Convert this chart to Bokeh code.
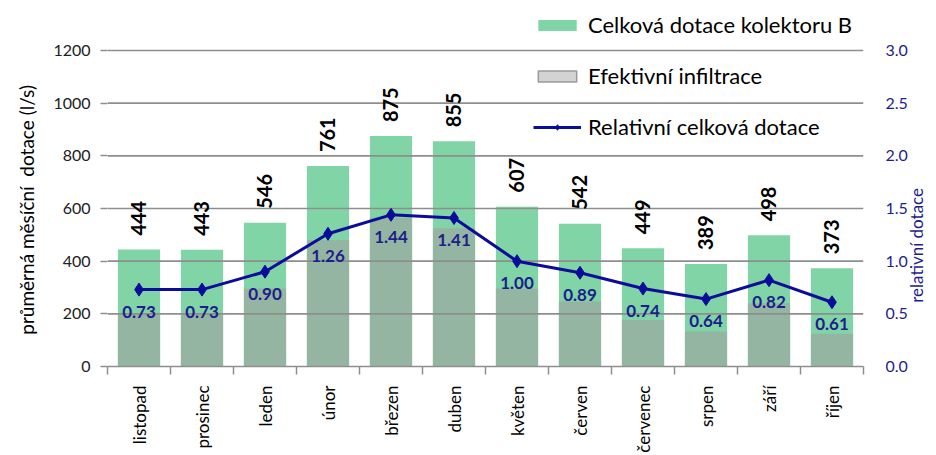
import math
from bokeh.plotting import figure
from bokeh.models import (ColumnDataSource, Range1d, LinearAxis, FixedTicker,
                          LabelSet, Legend, LegendItem)
from bokeh.core.properties import value
from bokeh.embed import file_html
from bokeh.resources import INLINE

months = ["listopad", "prosinec", "leden", "únor", "březen", "duben",
          "květen", "červen", "červenec", "srpen", "září", "říjen"]
total = [444, 443, 546, 761, 875, 855, 607, 542, 449, 389, 498, 373]
infiltrace = [200, 202, 296, 480, 566, 525, 295, 247, 177, 133, 240, 124]
relativni = [0.73, 0.73, 0.90, 1.26, 1.44, 1.41, 1.00, 0.89, 0.74, 0.64, 0.82, 0.61]
left_ticks = [0, 200, 400, 600, 800, 1000, 1200]
right_ticks = [0.0, 0.5, 1.0, 1.5, 2.0, 2.5, 3.0]

FONT = "Lato"
GREEN = "#80d4a6"
GREY_BAR = "#94b5a1"
GRID = "#8e8e8e"
NAVY = "#0c0c9a"
NAVY_TXT = "#1d1d8c"
EM = "\u2003"

# plot geometry: axis span 0..1200 covers 316 px; frame is taller so that the
# legend (which sits above the top gridline) stays inside the drawable frame
AXIS_PX = 316
FRAME_PX = 356
ext = FRAME_PX / AXIS_PX

n = len(months)
xs = [i + 0.5 for i in range(n)]
src = ColumnDataSource(dict(
    x=xs, total=total, inf=infiltrace, rel=relativni,
    total_lbl=[str(v) for v in total],
    rel_lbl=[f"{v:.2f}" for v in relativni],
))

x_start, x_end = 0, n
p = figure(frame_width=756, frame_height=FRAME_PX,
           x_range=Range1d(x_start, x_end),
           y_range=Range1d(left_ticks[0], left_ticks[-1] * ext),
           output_backend="svg", toolbar_location=None,
           min_border_left=107, min_border_right=73,
           min_border_top=10, min_border_bottom=89,
           outline_line_color=None, background_fill_color="white")
p.extra_y_ranges = {"rel": Range1d(right_ticks[0], right_ticks[-1] * ext)}
p.xgrid.visible = False
p.ygrid.visible = False

# bars
r_green = p.vbar(x="x", top="total", width=0.67, source=src,
                 fill_color=GREEN, line_color=None)
p.vbar(x="x", top="inf", width=0.67, source=src,
       fill_color=GREY_BAR, line_color=None)

# gridlines drawn above the bars
gy = left_ticks[1:]
p.segment(x0=[x_start] * len(gy), x1=[x_end] * len(gy), y0=gy, y1=gy,
          line_color=GRID, line_width=1.6)

# line
r_line = p.line(x="x", y="rel", source=src, y_range_name="rel",
                line_color=NAVY, line_width=3)
r_pts = p.scatter(x="x", y="rel", source=src, y_range_name="rel",
                  marker="diamond", size=13, fill_color=NAVY, line_color=NAVY)

# legend-only renderer for the grey swatch (no visible data)
r_grey_leg = p.vbar(x=[float("nan")], top=[float("nan")], width=0.67,
                    fill_color="#d3d3d3", line_color="#9a9a9a", line_width=1.5)

# labels
bar_labels = LabelSet(x="x", y="total", text="total_lbl", source=src,
                      angle=math.pi / 2, text_align="left", text_baseline="middle",
                      y_offset=14, text_font=value(FONT), text_font_size="20px",
                      text_font_style="bold", text_color="black")
p.add_layout(bar_labels)
rel_labels = LabelSet(x="x", y="rel", text="rel_lbl", source=src, y_range_name="rel",
                      text_align="center", text_baseline="middle",
                      y_offset=-22, text_font=value(FONT), text_font_size="17px",
                      text_font_style="bold", text_color=NAVY_TXT)
p.add_layout(rel_labels)

# left axis
ya = p.yaxis[0]
ya.ticker = FixedTicker(ticks=left_ticks)
ya.axis_label = "průměrná měsíční\u00a0 dotace (l/s)" + EM * 3
ya.axis_label_text_font = FONT
ya.axis_label_text_font_size = "19px"
ya.axis_label_text_font_style = "normal"
ya.axis_label_text_color = "black"
ya.axis_label_standoff = 12
ya.major_label_text_font = FONT
ya.major_label_text_font_size = "16px"
ya.major_label_text_color = "#202020"
ya.major_label_standoff = 10
ya.axis_line_color = None
ya.major_tick_line_color = GRID
ya.major_tick_line_width = 1.5
ya.major_tick_out = 7
ya.major_tick_in = 0
ya.minor_tick_line_color = None

# right axis
ra = LinearAxis(y_range_name="rel", ticker=FixedTicker(ticks=right_ticks))
ra.axis_label_orientation = math.pi / 2
if "axis_label_align" in ra.properties():
    ra.axis_label_align = "start"
    ra.axis_label = EM * 5 + "relativní dotace"
else:
    ra.axis_label = "relativní dotace"
ra.major_label_overrides = {v: f"{v:.1f}" for v in right_ticks}
ra.axis_label_text_font = FONT
ra.axis_label_text_font_size = "17px"
ra.axis_label_text_font_style = "normal"
ra.axis_label_text_color = NAVY_TXT
ra.axis_label_standoff = 6
ra.major_label_text_font = FONT
ra.major_label_text_font_size = "16px"
ra.major_label_text_color = NAVY_TXT
ra.major_label_standoff = 16
ra.axis_line_color = None
ra.major_tick_line_color = None
ra.minor_tick_line_color = None
p.add_layout(ra, "right")

# x axis
xa = p.xaxis[0]
xa.ticker = FixedTicker(ticks=xs, minor_ticks=list(range(x_start, x_end + 1)))
xa.major_label_overrides = {x: m for x, m in zip(xs, months)}
xa.major_label_orientation = math.pi / 2
xa.major_label_text_font = FONT
xa.major_label_text_font_size = "17px"
xa.major_label_text_color = "black"
xa.major_label_standoff = 11
xa.major_tick_line_color = None
xa.major_tick_out = 0
xa.major_tick_in = 0
xa.minor_tick_line_color = GRID
xa.minor_tick_line_width = 1.5
xa.minor_tick_out = 8
xa.minor_tick_in = 0
xa.axis_line_color = GRID
xa.axis_line_width = 1.6

legend = Legend(items=[
    LegendItem(label="Celková dotace kolektoru B", renderers=[r_green]),
    LegendItem(label="Efektivní infiltrace", renderers=[r_grey_leg]),
    LegendItem(label="Relativní celková dotace", renderers=[r_line, r_pts]),
], location=(426, 226), orientation="vertical",
    glyph_width=48, glyph_height=14, label_height=20, spacing=24,
    padding=0, margin=0, border_line_color=None, background_fill_alpha=0,
    label_text_font=FONT, label_text_font_size="22px", label_standoff=7,
    label_text_color="black")
p.add_layout(legend)

open("out.html", "w").write(file_html(p, INLINE))
